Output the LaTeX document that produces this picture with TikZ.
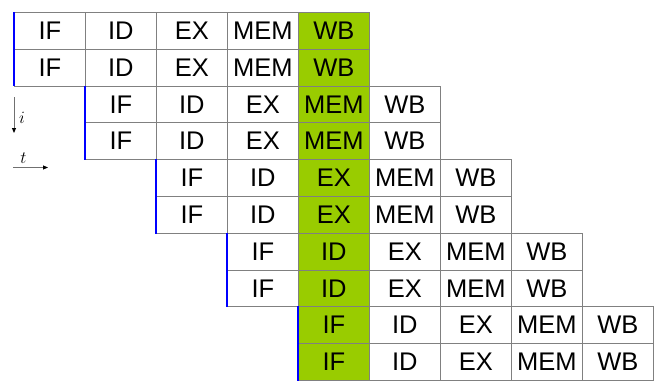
\documentclass[tikz,border=0pt]{standalone}
\usepackage{fontspec}
\setmainfont{Liberation Sans}
\usetikzlibrary{positioning, arrows.meta, calc}
\definecolor{plgreen}{HTML}{99CC00}
\definecolor{plgray}{HTML}{808080}
\definecolor{plblue}{HTML}{0000FF}
\definecolor{plaxis}{HTML}{707070}

\begin{document}
\begin{tikzpicture}[
  x=1pt, y=1pt,
  stage/.style={
    rectangle, draw=plgray, line width=0.8pt, anchor=north west,
    minimum width=71pt, minimum height=36.8pt, inner sep=0pt,
    font=\fontsize{25.5}{27}\selectfont
  },
  hot/.style={stage, fill=plgreen},
  issue/.style={draw=plblue, line width=1.6pt},
  axis/.style={-{Triangle[length=5pt, width=4pt, color=black]}, line width=0.9pt, color=plaxis},
  axislbl/.style={font=\fontsize{17}{18}\selectfont, inner sep=1pt},
]
\useasboundingbox (0,0) rectangle (668,-389);

% Pipeline stages, two instructions per issue slot
\foreach \p in {0,...,4} {
  \foreach \r in {0,1} {
    \foreach \lbl [count=\s from 0] in {IF,ID,EX,MEM,WB} {
      \pgfmathtruncatemacro{\col}{\p+\s}
      \pgfmathtruncatemacro{\row}{2*\p+\r}
      \ifnum\col=4 \def\sty{hot}\else\def\sty{stage}\fi
      \node[\sty] (c-\row-\s) at (14+71*\col, -12-36.8*\row) {\lbl};
    }
  }
}

% Issue markers
\foreach \p [evaluate=\p as \a using int(2*\p),
             evaluate=\p as \b using int(2*\p+1)] in {0,...,4}
  \draw[issue] (c-\a-0.north west) -- (c-\b-0.south west);

% Axes
\coordinate (itop) at (14,-97);
\coordinate (ibot) at (14,-133);
\coordinate (tleft) at (13,-167.5);
\coordinate (tright) at (48,-167.5);
\draw[axis] (itop) -- (ibot);
\draw[axis] (tleft) -- (tright);
\node[axislbl, right=4pt of $(itop)!0.58!(ibot)$] (ilbl) {$i$};
\node[axislbl, above=3pt of $(tleft)!0.3!(tright)$] (tlbl) {$t$};
\end{tikzpicture}
\end{document}
